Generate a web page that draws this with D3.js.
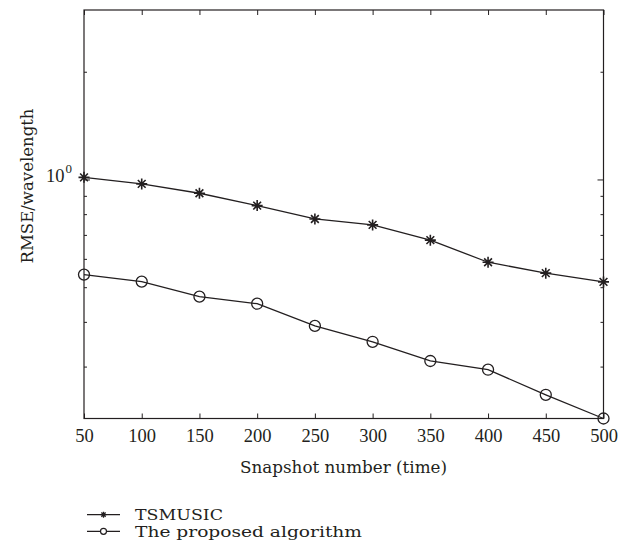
<!DOCTYPE html>
<html>
<head>
<meta charset="utf-8">
<script src="https://cdn.jsdelivr.net/npm/d3@7"></script>
<style>
  body { margin: 0; background: #fff; }
  svg { font-family: "Liberation Serif", "Times New Roman", serif; }
  .wide { font-family: "DejaVu Serif", serif; }
</style>
</head>
<body>
<svg></svg>
<script>
let snapshots = [50, 100, 150, 200, 250, 300, 350, 400, 450, 500]
let tsmusic = [1.017, 0.975, 0.918, 0.848, 0.778, 0.749, 0.679, 0.589, 0.549, 0.519]
let proposed = [0.544, 0.520, 0.472, 0.451, 0.391, 0.353, 0.312, 0.295, 0.251, 0.2155]
let seriesNames = ['TSMUSIC', 'The proposed algorithm']
let xTicks = [50, 100, 150, 200, 250, 300, 350, 400, 450, 500]
let yMajor = [1]
let yMinor = [0.3, 0.4, 0.5, 0.6, 0.7, 0.8, 0.9, 2]

let w = 633
let h = 552
let pLeft = 84, pTop = 10, pRight = 603.5, pBottom = 418.5
let ink = '#231f20'

let svg = d3.select('svg').attr('width', w).attr('height', h)

let x = d3.scaleLinear().domain([50, 500]).range([pLeft, pRight])
let y = d3.scaleLog().domain([0.2155, 2.985]).range([pBottom, pTop])

// ticks (inside, on all four sides)
let xAxisB = d3.axisBottom(x).tickValues(xTicks).tickSize(-5).tickPadding(10).tickFormat(d3.format('d'))
let gx = svg.append('g').attr('transform', 'translate(0,' + pBottom + ')').call(xAxisB)
gx.select('.domain').remove()
gx.selectAll('line').attr('stroke', ink)
gx.selectAll('text').attr('font-size', 18.5).attr('fill', ink)
  .attr('font-family', '"Liberation Serif", serif')

let gxt = svg.append('g').attr('transform', 'translate(0,' + pTop + ')')
  .call(d3.axisTop(x).tickValues(xTicks).tickSize(-5).tickFormat(''))
gxt.select('.domain').remove()
gxt.selectAll('line').attr('stroke', ink)

let yTickGroup = (vals, len) => {
  svg.append('g').selectAll('line').data(vals).enter().append('line')
    .attr('x1', pLeft).attr('x2', pLeft + len)
    .attr('y1', (d) => y(d)).attr('y2', (d) => y(d))
    .attr('stroke', ink)
  svg.append('g').selectAll('line').data(vals).enter().append('line')
    .attr('x1', pRight).attr('x2', pRight - len)
    .attr('y1', (d) => y(d)).attr('y2', (d) => y(d))
    .attr('stroke', ink)
}
yTickGroup(yMinor, 3)
yTickGroup(yMajor, 6)

// 10^0 label
let lab = svg.append('text').attr('x', pLeft - 12).attr('y', y(1) + 2)
  .attr('text-anchor', 'end').attr('font-size', 18.5).attr('fill', ink)
lab.append('tspan').text('10')
lab.append('tspan').attr('font-size', 13).attr('dy', -9).attr('dx', 1).text('0')

// box
svg.append('rect').attr('x', pLeft).attr('y', pTop)
  .attr('width', pRight - pLeft).attr('height', pBottom - pTop)
  .attr('fill', 'none').attr('stroke', ink).attr('stroke-width', 1.2)

// axis titles
svg.append('text').attr('class', 'wide').attr('x', 343.5).attr('y', 473)
  .attr('text-anchor', 'middle').attr('font-size', 16.5).attr('fill', ink)
  .attr('textLength', 207).attr('lengthAdjust', 'spacingAndGlyphs')
  .text('Snapshot number (time)')
svg.append('text').attr('class', 'wide').attr('transform', 'translate(33,186) rotate(-90)')
  .attr('text-anchor', 'middle').attr('font-size', 16.5).attr('fill', ink)
  .attr('textLength', 155).attr('lengthAdjust', 'spacingAndGlyphs')
  .text('RMSE/wavelength')

let line = d3.line().x((d, i) => x(snapshots[i])).y((d) => y(d))

let starPath = (r) => {
  let a = r * 0.7071
  return 'M' + (-r) + ',0L' + r + ',0M0,' + (-r) + 'L0,' + r +
    'M' + (-a) + ',' + (-a) + 'L' + a + ',' + a + 'M' + (-a) + ',' + a + 'L' + a + ',' + (-a)
}

let drawSeries = (vals, kind) => {
  svg.append('path').datum(vals).attr('d', line)
    .attr('fill', 'none').attr('stroke', ink).attr('stroke-width', 1.3)
  let g = svg.append('g')
  if (kind === 'star') {
    g.selectAll('path').data(vals).enter().append('path')
      .attr('transform', (d, i) => 'translate(' + x(snapshots[i]) + ',' + y(d) + ')')
      .attr('d', starPath(5.5))
      .attr('stroke', ink).attr('stroke-width', 1.6).attr('fill', 'none')
  } else {
    g.selectAll('circle').data(vals).enter().append('circle')
      .attr('cx', (d, i) => x(snapshots[i])).attr('cy', (d) => y(d))
      .attr('r', 5.5).attr('fill', 'none').attr('stroke', ink).attr('stroke-width', 1.3)
  }
}
drawSeries(tsmusic, 'star')
drawSeries(proposed, 'circle')

// legend
let legY = [514.7, 531.3]
let legKinds = ['star', 'circle']
let legWidths = [88, 227]
seriesNames.forEach((name, i) => {
  let ly = legY[i]
  svg.append('line').attr('x1', 87).attr('x2', 120).attr('y1', ly).attr('y2', ly)
    .attr('stroke', ink).attr('stroke-width', 1.2)
  if (legKinds[i] === 'star') {
    svg.append('path').attr('transform', 'translate(103.5,' + ly + ')')
      .attr('d', starPath(3)).attr('stroke', ink).attr('stroke-width', 1.3)
  } else {
    svg.append('circle').attr('cx', 103.5).attr('cy', ly).attr('r', 3)
      .attr('fill', '#fff').attr('stroke', ink).attr('stroke-width', 1.2)
  }
  svg.append('text').attr('class', 'wide').attr('x', 135).attr('y', ly + 5.5).attr('font-size', 15.5)
    .attr('fill', ink).attr('textLength', legWidths[i]).attr('lengthAdjust', 'spacingAndGlyphs')
    .text(name)
})
</script>
</body>
</html>
